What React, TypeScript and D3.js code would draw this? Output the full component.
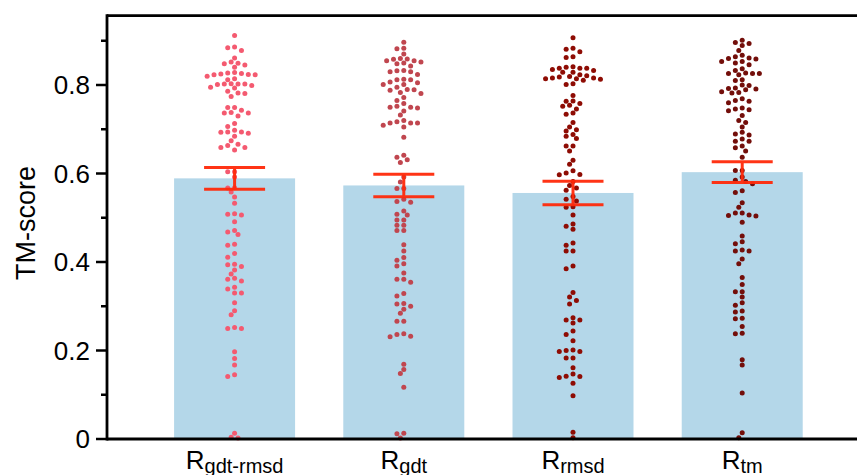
import React, { useMemo } from "react";
import * as d3 from "d3";

const categories = ["gdt-rmsd", "gdt", "rmsd", "tm"];
const barMeans = [0.589, 0.573, 0.556, 0.603];
const barErrors = [0.0245, 0.0255, 0.0265, 0.0235];
const yTicks = [0, 0.2, 0.4, 0.6, 0.8];
const yMinorTicks = [0.1, 0.3, 0.5, 0.7, 0.9];
const dotColors = ["#f45a70", "#c0464f", "#8e0c04", "#730e0a"];

const g1 = [0.912, 0.878, 0.884, 0.886, 0.861, 0.845, 0.848, 0.849, 0.852, 0.840, 0.814, 0.820, 0.823, 0.823, 0.824, 0.825, 0.826, 0.827, 0.828, 0.799, 0.801, 0.802, 0.802, 0.802, 0.803, 0.812, 0.793, 0.795, 0.782, 0.786, 0.781, 0.774, 0.737, 0.738, 0.737, 0.743, 0.749, 0.749, 0.730, 0.713, 0.706, 0.691, 0.693, 0.694, 0.694, 0.698, 0.684, 0.674, 0.663, 0.666, 0.659, 0.659, 0.653, 0.604, 0.604, 0.592, 0.568, 0.567, 0.558, 0.547, 0.533, 0.506, 0.508, 0.509, 0.491, 0.471, 0.468, 0.462, 0.440, 0.438, 0.419, 0.411, 0.395, 0.394, 0.390, 0.382, 0.373, 0.363, 0.361, 0.357, 0.343, 0.339, 0.330, 0.330, 0.308, 0.290, 0.281, 0.250, 0.250, 0.252, 0.197, 0.182, 0.167, 0.145, 0.141, 0.013, 0.004, 0.002];
const g2 = [0.8965, 0.882, 0.883, 0.870, 0.860, 0.855, 0.855, 0.858, 0.859, 0.848, 0.850, 0.852, 0.843, 0.830, 0.830, 0.832, 0.824, 0.833, 0.813, 0.812, 0.812, 0.805, 0.807, 0.801, 0.801, 0.783, 0.788, 0.789, 0.790, 0.795, 0.781, 0.772, 0.765, 0.752, 0.758, 0.748, 0.750, 0.750, 0.741, 0.732, 0.720, 0.714, 0.714, 0.714, 0.717, 0.709, 0.705, 0.682, 0.631, 0.637, 0.641, 0.625, 0.581, 0.592, 0.566, 0.566, 0.535, 0.537, 0.542, 0.506, 0.508, 0.515, 0.495, 0.495, 0.483, 0.483, 0.471, 0.471, 0.439, 0.425, 0.410, 0.404, 0.396, 0.391, 0.375, 0.354, 0.361, 0.361, 0.323, 0.329, 0.300, 0.305, 0.306, 0.293, 0.284, 0.266, 0.266, 0.232, 0.238, 0.231, 0.236, 0.169, 0.157, 0.148, 0.117, 0.012, 0.013, 0.002];
const g3 = [0.907, 0.881, 0.883, 0.875, 0.862, 0.864, 0.829, 0.829, 0.833, 0.835, 0.838, 0.838, 0.838, 0.840, 0.841, 0.813, 0.814, 0.814, 0.816, 0.816, 0.818, 0.819, 0.821, 0.823, 0.811, 0.801, 0.803, 0.776, 0.752, 0.754, 0.758, 0.763, 0.764, 0.746, 0.737, 0.734, 0.715, 0.705, 0.699, 0.696, 0.688, 0.679, 0.684, 0.662, 0.662, 0.651, 0.630, 0.621, 0.597, 0.598, 0.601, 0.606, 0.582, 0.573, 0.567, 0.562, 0.538, 0.542, 0.548, 0.524, 0.525, 0.506, 0.486, 0.481, 0.474, 0.443, 0.438, 0.425, 0.425, 0.391, 0.385, 0.331, 0.321, 0.313, 0.305, 0.269, 0.269, 0.274, 0.262, 0.244, 0.236, 0.222, 0.198, 0.198, 0.200, 0.201, 0.183, 0.183, 0.161, 0.147, 0.141, 0.139, 0.142, 0.126, 0.098, 0.015, 0.003];
const g4 = [0.894, 0.896, 0.889, 0.901, 0.878, 0.861, 0.864, 0.867, 0.853, 0.859, 0.860, 0.853, 0.846, 0.850, 0.833, 0.837, 0.826, 0.826, 0.826, 0.827, 0.823, 0.799, 0.800, 0.810, 0.812, 0.782, 0.783, 0.785, 0.789, 0.791, 0.792, 0.793, 0.769, 0.763, 0.765, 0.760, 0.742, 0.744, 0.746, 0.748, 0.731, 0.720, 0.715, 0.705, 0.689, 0.693, 0.678, 0.687, 0.673, 0.673, 0.658, 0.662, 0.651, 0.637, 0.607, 0.607, 0.592, 0.582, 0.585, 0.577, 0.557, 0.561, 0.534, 0.524, 0.504, 0.505, 0.506, 0.511, 0.511, 0.490, 0.459, 0.441, 0.446, 0.425, 0.425, 0.427, 0.407, 0.396, 0.365, 0.349, 0.333, 0.333, 0.321, 0.308, 0.302, 0.287, 0.289, 0.272, 0.273, 0.254, 0.238, 0.239, 0.179, 0.167, 0.104, 0.014, 0.003];
const groups = [g1, g2, g3, g4];

const W = 857;
const H = 475;
const left = 107;
const bottomY = 439;
const FONT = "'Liberation Sans', Arial, Helvetica, sans-serif";

function swarm(values: number[], cx: number, y: (v: number) => number, step: number, thr: number) {
  const pts = values.map((v) => ({ v, y: y(v), x: cx })).sort((a, b) => b.v - a.v);
  const placed: { x: number; y: number }[] = [];
  const order: number[] = [0];
  for (let k = 1; k < 30; k++) { order.push(-k); order.push(k); }
  for (const p of pts) {
    for (const k of order) {
      const x = cx + k * step;
      let ok = true;
      for (const q of placed) {
        const dy = q.y - p.y;
        if (Math.abs(dy) >= thr) continue;
        const dx = q.x - x;
        if (dx * dx + dy * dy < thr * thr) { ok = false; break; }
      }
      if (ok) { p.x = x; break; }
    }
    placed.push({ x: p.x, y: p.y });
  }
  return pts;
}

export default function App() {
  const yMax = 0.957;
  const y = d3.scaleLinear().domain([0, yMax]).range([bottomY, bottomY - yMax * 442.5]);
  const x = d3.scalePoint<string>().domain(categories).range([left, 869.8]).padding(0.754);
  const barW = 121;
  const capW = 61;

  const swarms = useMemo(
    () => groups.map((g, i) => swarm(g, x(categories[i]) as number, y, 3.43, 5.2)),
    []
  );

  const topY = y(yMax);

  return (
    <svg width={W} height={H} style={{ position: "absolute", left: 0, top: 0, background: "#fff" }} fontFamily={FONT}>
      {categories.map((c, i) => {
        const cx = x(c) as number;
        return (
          <rect key={"bar" + i} x={cx - barW / 2} y={y(barMeans[i])} width={barW} height={bottomY - y(barMeans[i])} fill="#b4d7e9" />
        );
      })}
      {swarms.map((pts, i) => (
        <g key={"sw" + i} fill={dotColors[i]}>
          {pts.map((p, j) => (
            <circle key={j} cx={p.x} cy={p.y} r={2.5} />
          ))}
        </g>
      ))}
      {categories.map((c, i) => {
        const cx = x(c) as number;
        const hi = y(barMeans[i] + barErrors[i]);
        const lo = y(barMeans[i] - barErrors[i]);
        return (
          <g key={"err" + i} stroke="#ff2a0a" strokeWidth={3} opacity={0.95}>
            <line x1={cx} x2={cx} y1={hi} y2={lo} />
            <line x1={cx - capW / 2} x2={cx + capW / 2} y1={hi} y2={hi} />
            <line x1={cx - capW / 2} x2={cx + capW / 2} y1={lo} y2={lo} />
          </g>
        );
      })}
      <line x1={left} x2={W} y1={topY} y2={topY} stroke="#000" strokeWidth={2.8} />
      <line x1={left} x2={W} y1={bottomY} y2={bottomY} stroke="#000" strokeWidth={2.8} />
      <line x1={left} x2={left} y1={topY - 1.4} y2={bottomY + 1.4} stroke="#000" strokeWidth={2.8} />
      {yTicks.map((t) => (
        <g key={"t" + t}>
          <line x1={left - 11} x2={left} y1={y(t)} y2={y(t)} stroke="#000" strokeWidth={2.5} />
          <text x={left - 17} y={y(t)} dy="0.36em" textAnchor="end" fontSize={26} fill="#000">
            {t === 0 ? "0" : d3.format(".1f")(t)}
          </text>
        </g>
      ))}
      {yMinorTicks.map((t) => (
        <line key={"m" + t} x1={left - 6} x2={left} y1={y(t)} y2={y(t)} stroke="#000" strokeWidth={2.5} />
      ))}
      <text transform={`translate(35,223) rotate(-90)`} textAnchor="middle" fontSize={27} fill="#000">
        TM-score
      </text>
      {categories.map((c, i) => (
        <text key={"xl" + i} x={x(c) as number} y={469} textAnchor="middle" fill="#000" fontSize={26}>
          R<tspan fontSize={20} dy={4}>{c}</tspan>
        </text>
      ))}
    </svg>
  );
}
